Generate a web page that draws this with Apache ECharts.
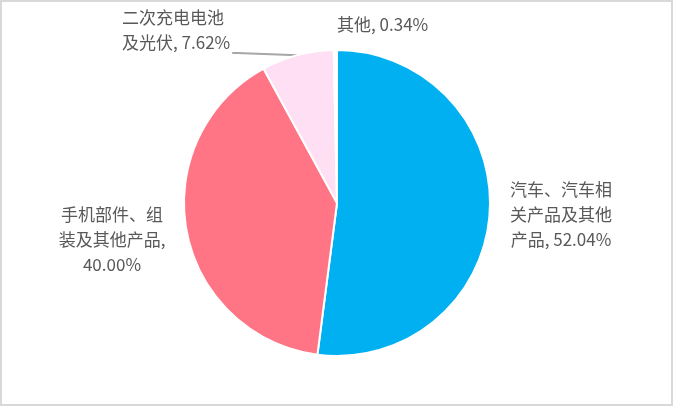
<!DOCTYPE html>
<html><head><meta charset="utf-8">
<script src="https://cdn.jsdelivr.net/npm/echarts@6/dist/echarts.min.js"></script>
<style>
html,body{margin:0;padding:0;background:#fff;}
#c{width:673px;height:406px;box-sizing:border-box;border:2px solid #d9d9d9;}
</style></head>
<body><div id="c"></div>
<script>
const categories = ["汽车、汽车相关产品及其他产品", "手机部件、组装及其他产品", "二次充电电池及光伏", "其他"];
const labelLines = [["汽车、汽车相", "关产品及其他", "产品"], ["手机部件、组", "装及其他产品,", ""], ["二次充电电池", "及光伏"], ["其他"]];
const values = [52.04, 40.00, 7.62, 0.34];
const colors = ["#00B0F0", "#FF7585", "#FFDFF3", "#FFFFFF"];

const labelPos = [
  {x: 559, y: 213, align: 'center', va: 'middle'},
  {x: 110, y: 238, align: 'center', va: 'middle'},
  {x: 120, y: 3, align: 'left', va: 'top'},
  {x: 335, y: 23, align: 'left', va: 'middle'}
];

function fmt(p) {
  const i = p.dataIndex;
  const ls = labelLines[i].slice();
  const v = values[i].toFixed(2) + '%';
  if (i === 1) { ls[ls.length - 1] = v; return ls.join('\n'); }
  ls[ls.length - 1] = ls[ls.length - 1] + ', ' + v;
  return ls.join('\n');
}

const chart = echarts.init(document.getElementById('c'));
chart.setOption({
  animation: false,
  backgroundColor: '#fff',
  series: [{
    type: 'pie',
    center: [335, 201],
    radius: [0, 153],
    startAngle: 90,
    clockwise: true,
    avoidLabelOverlap: false,
    itemStyle: {borderColor: '#fff', borderWidth: 2},
    label: {
      show: true,
      formatter: fmt,
      color: '#595959',
      fontSize: 17,
      lineHeight: 25,
      fontFamily: '"Noto Sans CJK SC", "Noto Sans", sans-serif'
    },
    labelLine: {show: false},
    labelLayout: function (params) {
      const p = labelPos[params.dataIndex];
      return {x: p.x, y: p.y, align: p.align, verticalAlign: p.va, moveOverlap: false};
    },
    data: values.map((v, i) => ({
      name: categories[i],
      value: v,
      itemStyle: {color: colors[i]},
      label: i === 2 ? {padding: [0, 2, 46, 0]} : {},
      labelLine: {show: i === 2, length: 5, length2: 5, lineStyle: {color: '#a6a6a6', width: 2}}
    }))
  }]
});
</script></body></html>
